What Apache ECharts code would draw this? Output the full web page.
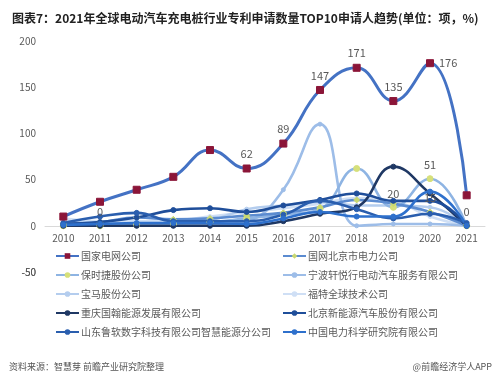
<!DOCTYPE html>
<html><head><meta charset="utf-8">
<script src="https://cdn.jsdelivr.net/npm/echarts@6/dist/echarts.min.js"></script>
<style>html,body{margin:0;padding:0;background:#fff}#c{width:500px;height:377px}</style>
</head><body><div id="c"></div>
<script>
const years = ['2010','2011','2012','2013','2014','2015','2016','2017','2018','2019','2020','2021'];
const names = ['国家电网公司','国网北京市电力公司','保时捷股份公司','宁波轩悦行电动汽车服务有限公司','宝马股份公司','福特全球技术公司','重庆国翰能源发展有限公司','北京新能源汽车股份有限公司','山东鲁软数字科技有限公司智慧能源分公司','中国电力科学研究院有限公司'];
const sgcc      = [10, 26, 39, 53, 82, 62, 89, 147, 171, 135, 176, 33];
const bjPower   = [2, 4, 9, 7, 8, 11, 14, 20, 28, 24, 15, 0];
const porsche   = [0, 0, 1, 2, 4, 8, 12, 18, 62, 20, 51, 0];
const ningbo    = [0, 0, 0, 0, 1, 5, 39, 110, 0, 2, 2, 0];
const bmw       = [5, 3, 2, 3, 6, 18, 22, 26, 22, 22, 20, 0];
const ford      = [8, 5, 5, 6, 10, 15, 19, 24, 30, 27, 10, 0];
const chongqing = [0, 0, 0, 0, 0, 0, 5, 13, 20, 64, 35, 0];
const bjNev     = [2, 4, 9, 17, 19, 15, 22, 28, 35, 27, 27, 0];
const shandong  = [3, 10, 14, 5, 5, 5, 12, 27, 18, 8, 13, 3];
const cepri     = [1, 2, 3, 3, 3, 2, 8, 15, 10, 10, 37, 0];
const yTicks = {min: -50, max: 200, interval: 50};

const F = '"Noto Sans CJK SC","Microsoft YaHei",sans-serif';
const colors = ['#4472C4','#5B8BD0','#8EB4E3','#9DBDE8','#B4CDEE','#CFDFF5','#1F3864','#1F4E9A','#2A5EAE','#2E70CC'];
const mk = [
  {symbol:'rect', size:7, color:'#8B1538'},
  {symbol:'diamond', size:6, color:'#C9D870'},
  {symbol:'circle', size:6, color:'#D6E07A'},
  {symbol:'circle', size:4, color:'#9DBDE8'},
  {symbol:'circle', size:4, color:'#B4CDEE'},
  {symbol:'circle', size:4, color:'#CFDFF5'},
  {symbol:'circle', size:5, color:'#1F3864'},
  {symbol:'circle', size:5, color:'#1F4E9A'},
  {symbol:'circle', size:5, color:'#2A5EAE'},
  {symbol:'circle', size:5, color:'#2E70CC'}
];
const datas = [sgcc, bjPower, porsche, ningbo, bmw, ford, chongqing, bjNev, shandong, cepri];
const labelIdx = {
  0: {5:'top',6:'top',7:'top',8:'top',9:'top',10:'right'},
  2: {1:'top',9:'top',10:'top',11:'top'},
  1: {10:'top'}
};
const order = [5,4,3,2,1,6,7,8,9,0];
const series = order.map((i, n) => ({
  name: names[i], type: 'line', smooth: 0.45, z: i===0?10:2,
  symbol: mk[i].symbol, symbolSize: mk[i].size, showSymbol: true,
  lineStyle: {width: i===0?3:2.6, color: colors[i]},
  itemStyle: {color: mk[i].color, borderColor: mk[i].color},
  color: colors[i],
  data: datas[i].map((v, k) => {
    const p = labelIdx[i] && labelIdx[i][k];
    return p ? {value: v, label: {show: true, position: p, distance: 5, color: '#595959', fontSize: 11, fontFamily: F}} : v;
  })
}));
const legendCommon = {orient: 'vertical', top: 246, itemGap: 9, itemWidth: 23, itemHeight: 7,
  textStyle: {fontSize: 10, color: '#595959', fontFamily: F, padding: [0,0,0,-3]}};
const gridLeft = 45, yLabelMargin = 9;
const chart = echarts.init(document.getElementById('c'));
chart.setOption({
  animation: false,
  backgroundColor: '#fff',
  title: [
    {text: '图表7：2021年全球电动汽车充电桩行业专利申请数量TOP10申请人趋势(单位：项，%)', left: 7, top: 7,
     textStyle: {fontSize: 12, fontWeight: 'bold', color: '#222', fontFamily: F}},
    {text: '资料来源：智慧芽 前瞻产业研究院整理', left: 4, top: 357,
     textStyle: {fontSize: 9, fontWeight: 'normal', color: '#555', fontFamily: F}},
    {text: '@前瞻经济学人APP', right: 3, top: 357,
     textStyle: {fontSize: 9, fontWeight: 'normal', color: '#555', fontFamily: F}}
  ],
  legend: [
    Object.assign({left: 50, data: [names[0], names[2], names[4], names[6], names[8]]}, legendCommon),
    Object.assign({left: 277, data: [names[1], names[3], names[5], names[7], names[9]]}, legendCommon)
  ],
  grid: {left: gridLeft, right: 15, top: 41, bottom: 105},
  xAxis: {type: 'category', data: years, boundaryGap: true,
    axisLine: {show: true, onZero: true, lineStyle: {color: '#D9D9D9'}}, axisTick: {show: false},
    axisLabel: {color: '#595959', fontSize: 10, fontFamily: F, margin: -39}},
  yAxis: {type: 'value', min: yTicks.min, max: yTicks.max, interval: yTicks.interval,
    axisLine: {show: false}, axisTick: {show: false}, splitLine: {show: false},
    axisLabel: {color: '#595959', fontSize: 10, fontFamily: F, margin: yLabelMargin, showMinLabel: true, showMaxLabel: true}},
  series: series
});
// The axis hides its lowest tick label in this layout; add it at the position given by the axis scale.
const minY = chart.convertToPixel({yAxisIndex: 0}, yTicks.min);
chart.setOption({
  graphic: [{type: 'text', x: gridLeft - yLabelMargin, y: minY, silent: true,
    style: {text: String(yTicks.min), fill: '#595959', font: '10px ' + F, textAlign: 'right', textVerticalAlign: 'middle'}}]
});
</script></body></html>
